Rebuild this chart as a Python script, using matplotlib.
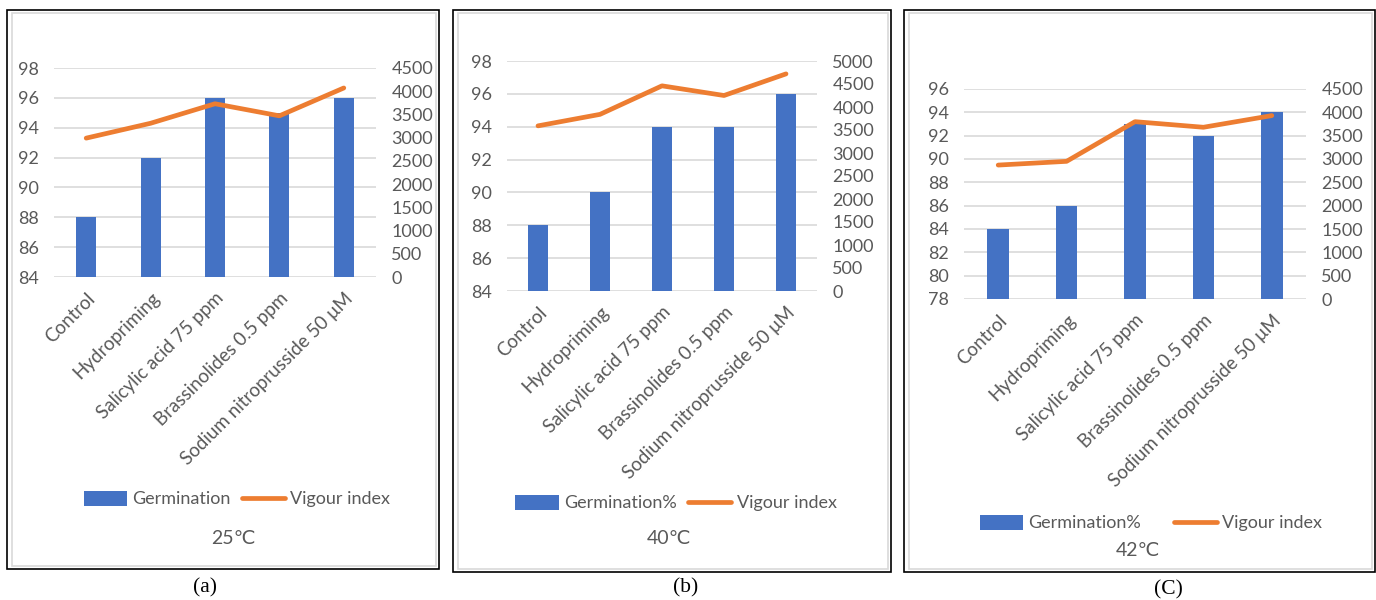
import numpy as np
import matplotlib.pyplot as plt
from matplotlib.patches import Rectangle

# -----------------------------
# DATA
# -----------------------------

treatments = ["Control", "Hydropriming", "Salicylic acid 75 ppm",
              "Brassinolides 0.5 ppm", "Sodium nitroprusside 50 μM"]

germ_25 = [88, 92, 96, 95, 96]
vigour_25 = [2990, 3310, 3730, 3470, 4070]

germ_40 = [88, 90, 94, 94, 96]
vigour_40 = [3590, 3840, 4460, 4250, 4720]

germ_42 = [84, 86, 93, 92, 94]
vigour_42 = [2870, 2950, 3800, 3680, 3930]

temps = ["25℃", "40℃", "42℃"]
captions = ["(a)", "(b)", "(C)"]
germ_labels = ["Germination", "Germination%", "Germination%"]

# -----------------------------
# LAYOUT (pixels)
# -----------------------------

W, H = 1376, 600
BLUE = "#4472C4"
ORANGE = "#ED7D31"
GREY = "#595959"
FONT = ["Lato", "DejaVu Sans"]

plt.rcParams["font.family"] = FONT

fig = plt.figure(figsize=(W / 100, H / 100), dpi=100)


def fbox(l, t, r, b):
    return [l / W, 1 - b / H, (r - l) / W, (b - t) / H]


def frame(l, t, r, b):
    fig.patches.append(Rectangle((l / W, 1 - b / H), (r - l) / W, (b - t) / H,
                                 transform=fig.transFigure, fill=False,
                                 edgecolor="black", lw=1.2))
    fig.patches.append(Rectangle(((l + 5) / W, 1 - (b - 3) / H), (r - l - 8) / W,
                                 (b - t - 6) / H, transform=fig.transFigure,
                                 fill=False, edgecolor="#d9d9d9", lw=1.2))


panels = [
    dict(germ=germ_25, vig=vigour_25, ax=(54, 68, 376, 277), ylim=(84, 98),
         ymax2=4500, frame=(7, 10, 439, 569), leg=(237, 499), colsp=0.6,
         title=(233, 539), cap=(205, 588)),
    dict(germ=germ_40, vig=vigour_40, ax=(507, 61, 817, 291), ylim=(84, 98),
         ymax2=5000, frame=(453, 10, 891, 572), leg=(676, 503), colsp=0.6,
         title=(669, 538), cap=(686, 588)),
    dict(germ=germ_42, vig=vigour_42, ax=(964, 89, 1306, 299), ylim=(78, 96),
         ymax2=4500, frame=(904, 10, 1375, 572), leg=(1151, 523), colsp=1.8,
         title=(1138, 551), cap=(1168, 590)),
]

x = np.arange(len(treatments))

for i, p in enumerate(panels):
    frame(*p["frame"])

    ax = fig.add_axes(fbox(*p["ax"]))
    ax2 = ax.twinx()

    bars = ax.bar(x, p["germ"], width=0.313, color=BLUE, zorder=2,
                  label=germ_labels[i])
    line, = ax2.plot(x, p["vig"], color=ORANGE, lw=3.4, solid_capstyle="round",
                     label="Vigour index")

    ax.set_xlim(-0.5, len(treatments) - 0.5)
    ax.set_ylim(*p["ylim"])
    ax.set_yticks(np.arange(p["ylim"][0], p["ylim"][1] + 1, 2))
    ax2.set_ylim(0, p["ymax2"])
    ax2.set_yticks(np.arange(0, p["ymax2"] + 1, 500))

    ax.grid(axis="y", color="#d9d9d9", lw=1.2)
    ax.set_axisbelow(True)
    for a in (ax, ax2):
        a.patch.set_visible(False)
        for s in a.spines.values():
            s.set_visible(False)
        a.tick_params(length=0, labelsize=13, labelcolor=GREY, pad=11)

    ax.set_xticks(x)
    ax.set_xticklabels(treatments, rotation=45, ha="right", va="top",
                       rotation_mode="anchor", fontsize=13.5, color=GREY)
    ax.tick_params(axis="x", pad=9)

    fig.legend([bars, line], [germ_labels[i], "Vigour index"], ncol=2,
               loc="center", bbox_to_anchor=(p["leg"][0] / W, 1 - p["leg"][1] / H),
               frameon=False, fontsize=13, labelcolor=GREY, handlelength=2.4,
               handleheight=0.9, handletextpad=0.3, columnspacing=p["colsp"])

    fig.text(p["title"][0] / W, 1 - p["title"][1] / H, temps[i], ha="center",
             va="center", fontsize=14, color=GREY)
    fig.text(p["cap"][0] / W, 1 - p["cap"][1] / H, captions[i], ha="center",
             va="center", fontsize=15.5, family="Liberation Serif", color="black")

fig.savefig("out.png", dpi=100)
